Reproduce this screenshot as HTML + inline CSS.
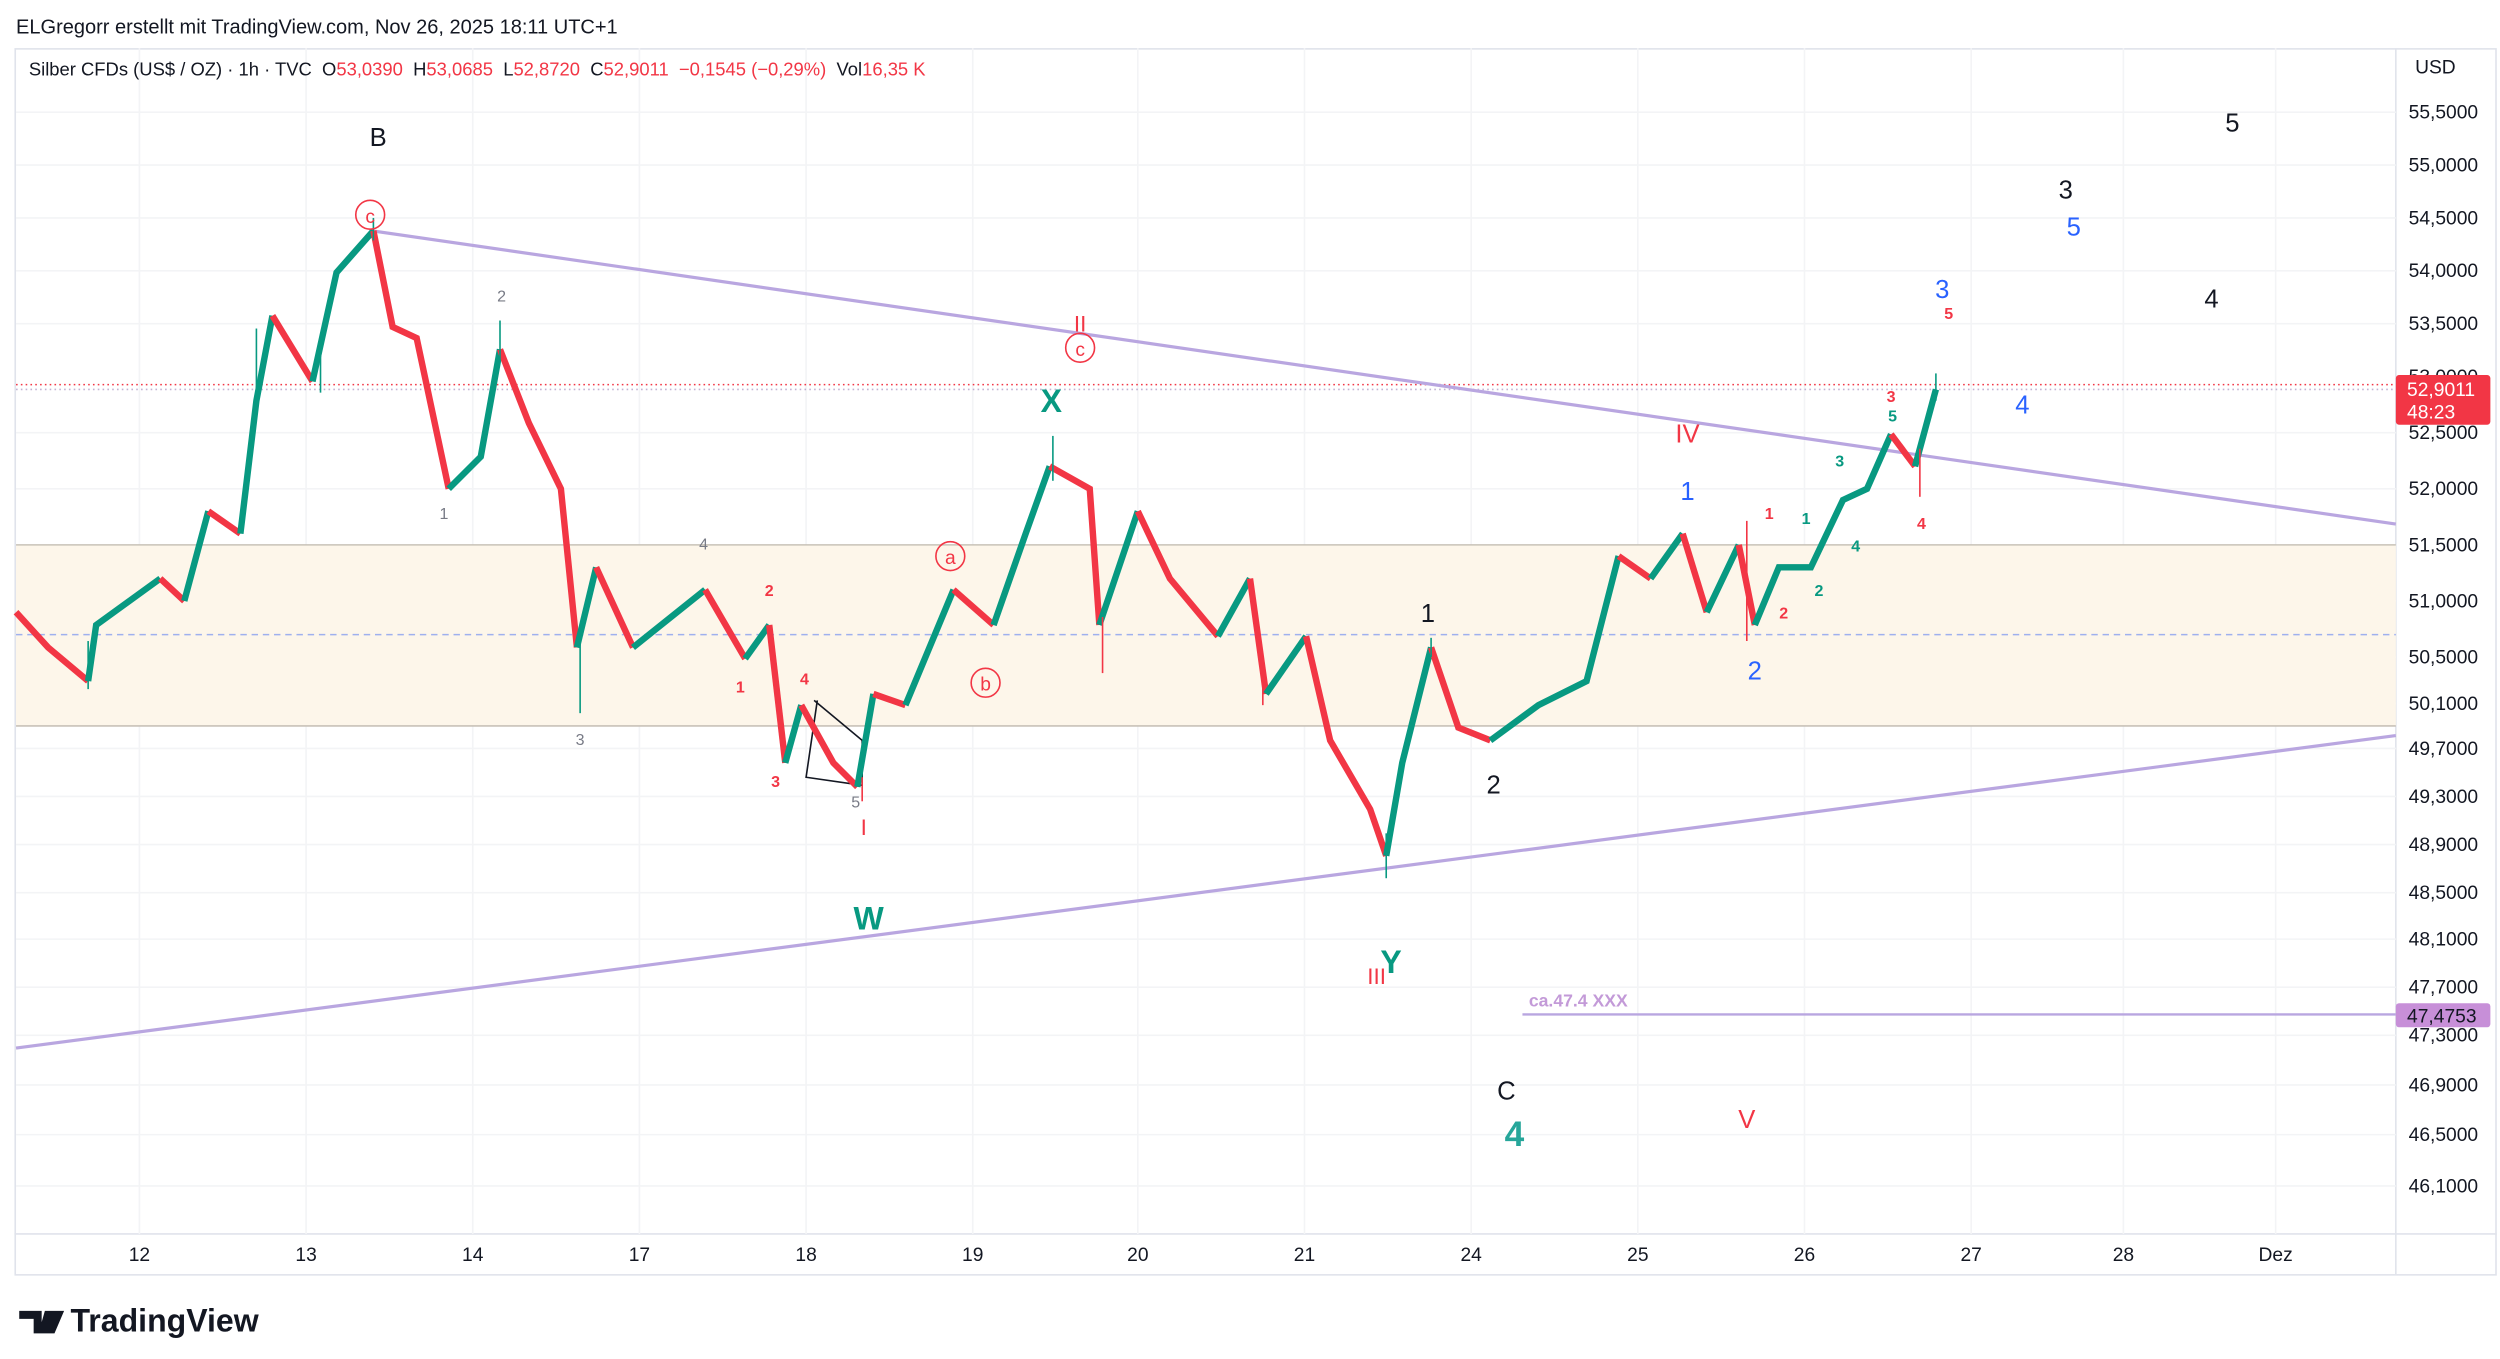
<!DOCTYPE html>
<html><head><meta charset="utf-8"><style>
html,body{margin:0;padding:0;background:#fff;}
svg{display:block;font-family:"Liberation Sans",sans-serif;}
</style></head><body>
<svg width="2500" height="1359" viewBox="0 0 1560 848" xmlns="http://www.w3.org/2000/svg">
<rect width="1560" height="848" fill="#fff"/>
<text x="10" y="21" font-size="12.5" fill="#131722">ELGregorr erstellt mit TradingView.com, Nov 26, 2025 18:11 UTC+1</text>
<rect x="9.5" y="30.5" width="1548" height="765" fill="none" stroke="#e0e3eb"/>
<line x1="1495" y1="30" x2="1495" y2="795" stroke="#e0e3eb"/>
<line x1="9" y1="770" x2="1558" y2="770" stroke="#e0e3eb"/>
<g stroke="#f3f4f6">
<line x1="87" y1="30" x2="87" y2="770"/><line x1="191" y1="30" x2="191" y2="770"/><line x1="295" y1="30" x2="295" y2="770"/><line x1="399" y1="30" x2="399" y2="770"/><line x1="503" y1="30" x2="503" y2="770"/><line x1="607" y1="30" x2="607" y2="770"/><line x1="710" y1="30" x2="710" y2="770"/><line x1="814" y1="30" x2="814" y2="770"/><line x1="918" y1="30" x2="918" y2="770"/><line x1="1022" y1="30" x2="1022" y2="770"/><line x1="1126" y1="30" x2="1126" y2="770"/><line x1="1230" y1="30" x2="1230" y2="770"/><line x1="1325" y1="30" x2="1325" y2="770"/><line x1="1420" y1="30" x2="1420" y2="770"/>
<line x1="10" y1="70" x2="1495" y2="70"/><line x1="10" y1="103" x2="1495" y2="103"/><line x1="10" y1="136" x2="1495" y2="136"/><line x1="10" y1="169" x2="1495" y2="169"/><line x1="10" y1="202" x2="1495" y2="202"/><line x1="10" y1="270" x2="1495" y2="270"/><line x1="10" y1="305" x2="1495" y2="305"/><line x1="10" y1="375" x2="1495" y2="375"/><line x1="10" y1="410" x2="1495" y2="410"/><line x1="10" y1="439" x2="1495" y2="439"/><line x1="10" y1="467" x2="1495" y2="467"/><line x1="10" y1="497" x2="1495" y2="497"/><line x1="10" y1="527" x2="1495" y2="527"/><line x1="10" y1="557" x2="1495" y2="557"/><line x1="10" y1="586" x2="1495" y2="586"/><line x1="10" y1="616" x2="1495" y2="616"/><line x1="10" y1="646" x2="1495" y2="646"/><line x1="10" y1="677" x2="1495" y2="677"/><line x1="10" y1="708" x2="1495" y2="708"/><line x1="10" y1="740" x2="1495" y2="740"/>
</g>
<rect x="10" y="340" width="1485" height="113" fill="#fdf6ea"/>
<line x1="10" y1="340" x2="1495" y2="340" stroke="#c8c2b8"/>
<line x1="10" y1="453" x2="1495" y2="453" stroke="#c8c2b8"/>
<line x1="10" y1="396" x2="1495" y2="396" stroke="#9fb0ee" stroke-dasharray="4,3"/>
<line x1="10" y1="240" x2="1495" y2="240" stroke="#f23645" stroke-dasharray="1,2"/>
<line x1="10" y1="243" x2="1495" y2="243" stroke="#9a7fb5" stroke-dasharray="1,2" opacity="0.6"/>
<line x1="232" y1="144" x2="1495" y2="327" stroke="#b9a6e0" stroke-width="2"/>
<line x1="10" y1="654" x2="1495" y2="459" stroke="#b9a6e0" stroke-width="2"/>
<line x1="950" y1="633" x2="1495" y2="633" stroke="#b9a6e0" stroke-width="1.5"/>
<text x="954" y="628" font-size="11" fill="#c39ad8" font-weight="bold">ca.47.4 XXX</text>
<polyline points="508,437 538,462 538,490 503,485 510,437" fill="none" stroke="#131722" stroke-width="1"/>
<!-- price path (candles approximated) -->
<g stroke-width="4" stroke-linecap="butt" fill="none">
<polyline stroke="#f23645" points="10,382 30,404 55,425"/>
<polyline stroke="#089981" points="55,425 60,390 100,361"/>
<polyline stroke="#f23645" points="100,361 115,375"/>
<polyline stroke="#089981" points="115,375 130,319"/>
<polyline stroke="#f23645" points="130,319 150,333"/>
<polyline stroke="#089981" points="150,333 160,250 170,197"/>
<polyline stroke="#f23645" points="170,197 195,238"/>
<polyline stroke="#089981" points="195,238 210,170 233,144"/>
<polyline stroke="#f23645" points="233,144 245,204 260,211 280,305"/>
<polyline stroke="#089981" points="280,305 300,285 312,218"/>
<polyline stroke="#f23645" points="312,218 330,264 350,305 360,404"/>
<polyline stroke="#089981" points="360,404 372,354"/>
<polyline stroke="#f23645" points="372,354 395,404"/>
<polyline stroke="#089981" points="395,404 440,368"/>
<polyline stroke="#f23645" points="440,368 465,411"/>
<polyline stroke="#089981" points="465,411 480,390"/>
<polyline stroke="#f23645" points="480,390 490,476"/>
<polyline stroke="#089981" points="490,476 500,440"/>
<polyline stroke="#f23645" points="500,440 520,476 535,491"/>
<polyline stroke="#089981" points="535,491 545,433"/>
<polyline stroke="#f23645" points="545,433 565,440"/>
<polyline stroke="#089981" points="565,440 595,368"/>
<polyline stroke="#f23645" points="595,368 620,390"/>
<polyline stroke="#089981" points="620,390 640,333 655,291"/>
<polyline stroke="#f23645" points="655,291 680,305 686,390"/>
<polyline stroke="#089981" points="686,390 710,319"/>
<polyline stroke="#f23645" points="710,319 730,361 760,397"/>
<polyline stroke="#089981" points="760,397 780,361"/>
<polyline stroke="#f23645" points="780,361 790,433"/>
<polyline stroke="#089981" points="790,433 815,397"/>
<polyline stroke="#f23645" points="815,397 830,462 855,505 865,534"/>
<polyline stroke="#089981" points="865,534 875,476 893,404"/>
<polyline stroke="#f23645" points="893,404 910,454 930,462"/>
<polyline stroke="#089981" points="930,462 960,440 990,425 1010,347"/>
<polyline stroke="#f23645" points="1010,347 1030,361"/>
<polyline stroke="#089981" points="1030,361 1050,333"/>
<polyline stroke="#f23645" points="1050,333 1065,382"/>
<polyline stroke="#089981" points="1065,382 1085,340"/>
<polyline stroke="#f23645" points="1085,340 1095,390"/>
<polyline stroke="#089981" points="1095,390 1110,354 1130,354 1150,312 1165,305 1180,271"/>
<polyline stroke="#f23645" points="1180,271 1195,291"/>
<polyline stroke="#089981" points="1195,291 1208,243"/>
</g>
<g stroke-width="1" fill="none" stroke="#089981">
<line x1="55" y1="430" x2="55" y2="400"/><line x1="160" y1="258" x2="160" y2="205"/><line x1="200" y1="245" x2="200" y2="215"/><line x1="233" y1="150" x2="233" y2="136"/><line x1="312" y1="225" x2="312" y2="200"/><line x1="362" y1="445" x2="362" y2="395"/><line x1="657" y1="300" x2="657" y2="272"/><line x1="865" y1="548" x2="865" y2="520"/><line x1="893" y1="410" x2="893" y2="398"/><line x1="1208" y1="250" x2="1208" y2="233"/>
</g>
<g stroke-width="1" fill="none" stroke="#f23645">
<line x1="688" y1="420" x2="688" y2="385"/><line x1="1090" y1="400" x2="1090" y2="325"/><line x1="1198" y1="310" x2="1198" y2="280"/><line x1="788" y1="440" x2="788" y2="410"/><line x1="538" y1="500" x2="538" y2="485"/>
</g>
<text x="18" y="47" font-size="11.5" fill="#131722" xml:space="preserve">Silber CFDs (US$ / OZ) · 1h · TVC  O<tspan fill="#f23645">53,0390</tspan>  H<tspan fill="#f23645">53,0685</tspan>  L<tspan fill="#f23645">52,8720</tspan>  C<tspan fill="#f23645">52,9011</tspan>  <tspan fill="#f23645">−0,1545 (−0,29%)</tspan>  Vol<tspan fill="#f23645">16,35 K</tspan></text>
<g font-size="12" fill="#131722">
<text x="1503" y="74">55,5000</text><text x="1503" y="107">55,0000</text><text x="1503" y="140">54,5000</text><text x="1503" y="173">54,0000</text><text x="1503" y="206">53,5000</text><text x="1503" y="239">53,0000</text><text x="1503" y="274">52,5000</text><text x="1503" y="309">52,0000</text><text x="1503" y="344">51,5000</text><text x="1503" y="379">51,0000</text><text x="1503" y="414">50,5000</text><text x="1503" y="443">50,1000</text><text x="1503" y="471">49,7000</text><text x="1503" y="501">49,3000</text><text x="1503" y="531">48,9000</text><text x="1503" y="561">48,5000</text><text x="1503" y="590">48,1000</text><text x="1503" y="620">47,7000</text><text x="1503" y="650">47,3000</text><text x="1503" y="681">46,9000</text><text x="1503" y="712">46,5000</text><text x="1503" y="744">46,1000</text>
</g>
<text x="1507" y="46" font-size="12" fill="#131722">USD</text>
<rect x="1495" y="234" width="59" height="31" fill="#f23645" rx="2"/>
<text x="1502" y="247" font-size="12" fill="#fff">52,9011</text>
<text x="1502" y="261" font-size="12" fill="#fff">48:23</text>
<rect x="1495" y="626" width="59" height="15" fill="#c78fd8" rx="2"/>
<text x="1502" y="638" font-size="12" fill="#131722">47,4753</text>
<g font-size="12" fill="#131722" text-anchor="middle">
<text x="87" y="787">12</text><text x="191" y="787">13</text><text x="295" y="787">14</text><text x="399" y="787">17</text><text x="503" y="787">18</text><text x="607" y="787">19</text><text x="710" y="787">20</text><text x="814" y="787">21</text><text x="918" y="787">24</text><text x="1022" y="787">25</text><text x="1126" y="787">26</text><text x="1230" y="787">27</text><text x="1325" y="787">28</text><text x="1420" y="787">Dez</text>
</g>
<path d="M12 818 h14 v14 h-5 v-9 h-9z M28 818 h6 l-6 14 h-4z M34 818 h6 l-6 14 h-6z" fill="#131722"/>
<text x="44" y="831" font-size="20" font-weight="bold" fill="#131722">TradingView</text>
<g text-anchor="middle">
<text x="236" y="91" font-size="16" fill="#131722">B</text>
<circle cx="231" cy="134" r="9" fill="none" stroke="#f23645"/><text x="231" y="139" font-size="12" fill="#f23645">c</text>
<circle cx="674" cy="217" r="9" fill="none" stroke="#f23645"/><text x="674" y="222" font-size="12" fill="#f23645">c</text>
<text x="674" y="207" font-size="14" fill="#f23645">II</text>
<circle cx="593" cy="347" r="9" fill="none" stroke="#f23645"/><text x="593" y="352" font-size="12" fill="#f23645">a</text>
<circle cx="615" cy="426" r="9" fill="none" stroke="#f23645"/><text x="615" y="431" font-size="12" fill="#f23645">b</text>
<text x="656" y="257" font-size="20" font-weight="bold" fill="#089981">X</text>
<text x="542" y="580" font-size="20" font-weight="bold" fill="#089981">W</text>
<text x="868" y="607" font-size="20" font-weight="bold" fill="#089981">Y</text>
<text x="859" y="614" font-size="14" fill="#f23645">III</text>
<text x="539" y="521" font-size="14" fill="#f23645">I</text>
<text x="1053" y="276" font-size="16" fill="#f23645">IV</text>
<text x="1090" y="704" font-size="16" fill="#f23645">V</text>
<text x="940" y="686" font-size="16" fill="#131722">C</text>
<text x="945" y="715" font-size="22" font-weight="bold" fill="#26a69a">4</text>
<text x="891" y="388" font-size="16" fill="#131722">1</text>
<text x="932" y="495" font-size="16" fill="#131722">2</text>
<text x="1289" y="124" font-size="16" fill="#131722">3</text>
<text x="1380" y="192" font-size="16" fill="#131722">4</text>
<text x="1393" y="82" font-size="16" fill="#131722">5</text>
<text x="1053" y="312" font-size="16" fill="#2962ff">1</text>
<text x="1095" y="424" font-size="16" fill="#2962ff">2</text>
<text x="1212" y="186" font-size="16" fill="#2962ff">3</text>
<text x="1262" y="258" font-size="16" fill="#2962ff">4</text>
<text x="1294" y="147" font-size="16" fill="#2962ff">5</text>
<g font-size="10" fill="#787b86"><text x="277" y="324">1</text><text x="313" y="188">2</text><text x="362" y="465">3</text><text x="439" y="343">4</text><text x="534" y="504">5</text></g>
<g font-size="10" fill="#f23645" font-weight="bold"><text x="462" y="432">1</text><text x="480" y="372">2</text><text x="484" y="491">3</text><text x="502" y="427">4</text><text x="1104" y="324">1</text><text x="1113" y="386">2</text><text x="1180" y="251">3</text><text x="1199" y="330">4</text><text x="1216" y="199">5</text></g>
<g font-size="10" fill="#089981" font-weight="bold"><text x="1127" y="327">1</text><text x="1135" y="372">2</text><text x="1148" y="291">3</text><text x="1158" y="344">4</text><text x="1181" y="263">5</text></g>
</g>
</svg>
</body></html>
